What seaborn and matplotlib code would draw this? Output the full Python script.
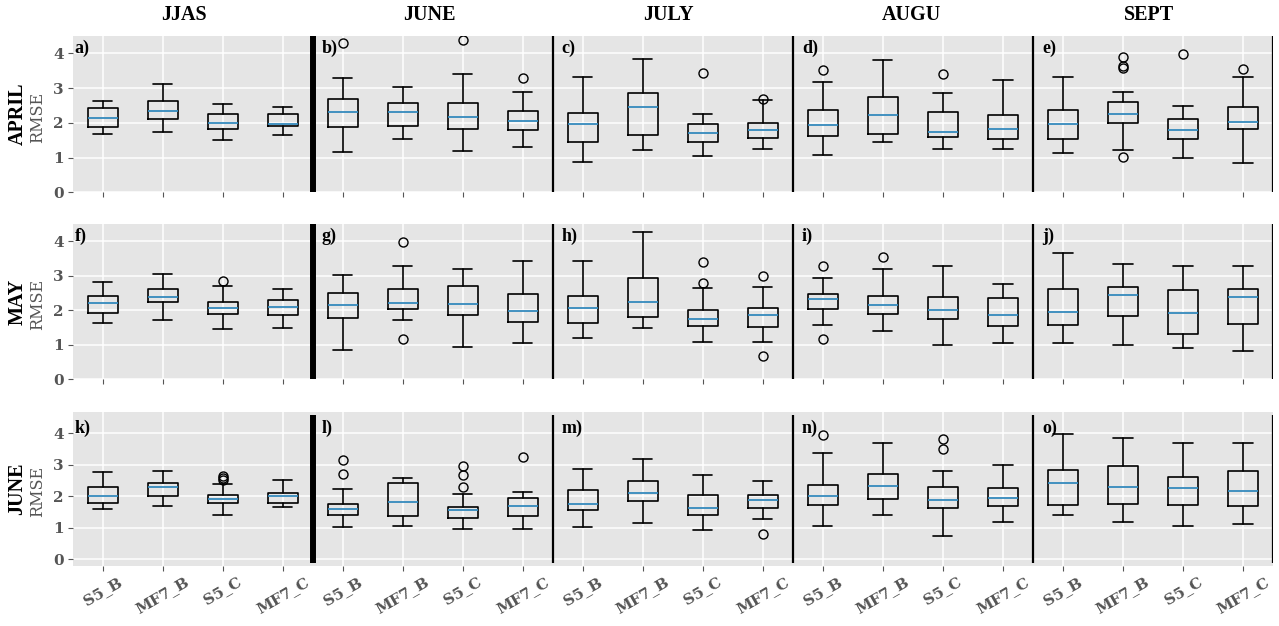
import matplotlib
matplotlib.use("Agg")
import matplotlib.pyplot as plt
import seaborn as sns

# ---------------- data ----------------
months = ["APRIL", "MAY", "JUNE"]
periods = ["JJAS", "JUNE", "JULY", "AUGU", "SEPT"]
models = ["S5_B", "MF7_B", "S5_C", "MF7_C"]
panel_letters = list("abcdefghijklmno")

# APRIL row (20 boxes: 5 periods x 4 models)
april_low = [1.67, 1.75, 1.51, 1.64, 1.15, 1.53, 1.18, 1.29, 0.88, 1.21, 1.04, 1.24, 1.08, 1.45, 1.26, 1.26, 1.12, 1.21, 0.98, 0.85]
april_q1 = [1.87, 2.10, 1.82, 1.91, 1.87, 1.92, 1.82, 1.80, 1.45, 1.64, 1.45, 1.55, 1.62, 1.69, 1.58, 1.53, 1.53, 2.00, 1.53, 1.81]
april_med = [2.15, 2.35, 2.00, 1.98, 2.32, 2.32, 2.17, 2.05, 1.97, 2.45, 1.71, 1.78, 1.95, 2.22, 1.75, 1.82, 1.97, 2.24, 1.80, 2.02]
april_q3 = [2.42, 2.62, 2.24, 2.24, 2.70, 2.57, 2.57, 2.33, 2.27, 2.85, 1.97, 2.00, 2.37, 2.73, 2.30, 2.22, 2.36, 2.59, 2.12, 2.47]
april_high = [2.63, 3.12, 2.54, 2.45, 3.28, 3.02, 3.40, 2.89, 3.31, 3.83, 2.24, 2.65, 3.17, 3.81, 2.85, 3.23, 3.31, 2.89, 2.49, 3.33]
april_out = [[], [], [], [], [4.31], [], [4.38], [3.28], [], [], [3.43], [2.70], [3.53], [], [3.40], [],
             [], [3.90, 3.65, 3.59, 1.03], [3.98], [3.56]]

# MAY row
may_low = [1.63, 1.73, 1.46, 1.48, 0.86, 1.73, 0.93, 1.06, 1.21, 1.48, 1.08, 1.08, 1.57, 1.40, 0.99, 1.06, 1.04, 1.00, 0.91, 0.81]
may_q1 = [1.92, 2.24, 1.89, 1.87, 1.78, 2.05, 1.87, 1.67, 1.62, 1.82, 1.56, 1.53, 2.03, 1.90, 1.76, 1.54, 1.57, 1.84, 1.31, 1.61]
may_med = [2.20, 2.39, 2.08, 2.11, 2.15, 2.22, 2.18, 1.98, 2.08, 2.23, 1.76, 1.86, 2.33, 2.15, 2.01, 1.86, 1.95, 2.45, 1.93, 2.38]
may_q3 = [2.43, 2.63, 2.25, 2.30, 2.50, 2.61, 2.72, 2.47, 2.41, 2.93, 2.02, 2.08, 2.47, 2.43, 2.38, 2.36, 2.61, 2.69, 2.58, 2.61]
may_high = [2.83, 3.05, 2.71, 2.63, 3.02, 3.28, 3.21, 3.43, 3.43, 4.28, 2.64, 2.69, 2.95, 3.21, 3.30, 2.77, 3.65, 3.35, 3.30, 3.30]
may_out = [[], [], [2.86], [], [], [3.97, 1.18], [], [], [], [], [3.40, 2.80], [3.00, 0.69], [3.30, 1.18], [3.55],
           [], [], [], [], [], []]

# JUNE row
june_low = [1.59, 1.68, 1.42, 1.65, 1.03, 1.07, 0.96, 0.96, 1.04, 1.15, 0.93, 1.29, 1.07, 1.41, 0.74, 1.18, 1.41, 1.18, 1.07, 1.12]
june_q1 = [1.80, 2.02, 1.80, 1.80, 1.41, 1.36, 1.31, 1.36, 1.55, 1.86, 1.40, 1.64, 1.72, 1.91, 1.64, 1.69, 1.72, 1.77, 1.72, 1.69]
june_med = [2.02, 2.29, 1.93, 2.02, 1.59, 1.83, 1.56, 1.68, 1.74, 2.10, 1.64, 1.89, 2.02, 2.34, 1.89, 1.94, 2.41, 2.29, 2.26, 2.16]
june_q3 = [2.29, 2.43, 2.04, 2.12, 1.77, 2.43, 1.67, 1.94, 2.21, 2.49, 2.04, 2.05, 2.37, 2.70, 2.29, 2.26, 2.84, 2.97, 2.60, 2.81]
june_high = [2.77, 2.79, 2.40, 2.53, 2.24, 2.59, 2.07, 2.15, 2.86, 3.19, 2.67, 2.49, 3.37, 3.68, 2.79, 3.00, 3.96, 3.84, 3.68, 3.68]
june_out = [[], [], [2.64, 2.57, 2.52], [], [3.16, 2.72], [], [2.96, 2.67, 2.31], [3.24], [], [], [], [0.81], [3.93],
            [], [3.82, 3.49], [], [], [], [], []]

yticks = [0, 1, 2, 3, 4]

rows = [
    (april_low, april_q1, april_med, april_q3, april_high, april_out),
    (may_low, may_q1, may_med, may_q3, may_high, may_out),
    (june_low, june_q1, june_med, june_q3, june_high, june_out),
]

# ---------------- style ----------------
sns.set_theme(style="darkgrid", rc={
    "axes.facecolor": "#E5E5E5",
    "axes.edgecolor": "white",
    "grid.color": "white",
    "grid.linewidth": 1.1,
    "xtick.bottom": True,
    "ytick.left": True,
    "xtick.color": "#555555",
    "ytick.color": "#555555",
    "xtick.major.size": 3.5,
    "ytick.major.size": 3.5,
    "xtick.major.width": 0.8,
    "ytick.major.width": 0.8,
    "xtick.direction": "out",
    "ytick.direction": "out",
})

GRAY = "#555555"
TICKFONT = dict(family="DejaVu Serif", weight="bold", size=11, color=GRAY)
TIMES = "Liberation Serif"

fig = plt.figure(figsize=(12.79, 6.26), dpi=100)
left, width = 0.0568, 0.9385
row_boxes = [(0.6928, 0.2497), (0.3941, 0.2478), (0.0963, 0.2460)]
ylims = [(0.0, 4.5), (0.0, 4.5), (-0.2, 4.68)]

positions = list(range(1, 21))
for r, (low, q1, med, q3, high, out) in enumerate(rows):
    b, h = row_boxes[r]
    ax = fig.add_axes([left, b, width, h])
    stats = []
    for i in range(20):
        stats.append(dict(whislo=low[i], q1=q1[i], med=med[i], q3=q3[i], whishi=high[i], fliers=out[i]))
    ax.bxp(stats, positions=positions, widths=0.5, capwidths=0.32,
           boxprops=dict(color="black", linewidth=1.2),
           whiskerprops=dict(color="black", linewidth=1.2),
           capprops=dict(color="black", linewidth=1.2),
           medianprops=dict(color="#348ABD", linewidth=1.3),
           flierprops=dict(marker="o", markerfacecolor="none", markeredgecolor="black",
                           markersize=6.5, markeredgewidth=1.0))
    # separators
    ax.vlines([4.5], -0.1, 4.57, color="black", linewidth=4.3, zorder=5)
    ax.vlines([8.5, 12.5, 16.5, 20.5], -0.1, 4.57, color="black", linewidth=1.6, zorder=5)
    ax.set_xlim(0.5, 20.5)
    ax.set_ylim(*ylims[r])
    ax.set_yticks(yticks)
    ax.set_yticklabels([str(v) for v in yticks], fontdict=TICKFONT)
    ax.set_xticks(positions)
    if r == 2:
        ax.set_xticklabels(models * 5, rotation=30, ha="center", fontdict=TICKFONT)
    else:
        ax.set_xticklabels([""] * 20)
    ax.tick_params(axis="both", pad=3)
    ax.grid(True, color="white", linewidth=1.1)
    ax.set_axisbelow(True)
    for s in ax.spines.values():
        s.set_visible(False)

    # panel letters
    for g in range(5):
        x0 = 0.53 if g == 0 else 4.5 + 4 * (g - 1) + 4.5 - 4.5 + 0.15
        x0 = 0.53 if g == 0 else 4.5 + 4 * (g - 1) + 0.15
        ax.text(x0, 4.0, panel_letters[r * 5 + g] + ")", fontfamily=TIMES, fontweight="bold",
                fontsize=13, color="black", va="baseline", ha="left", zorder=6)

    # row labels
    ax.text(-0.046, 0.5, months[r], transform=ax.transAxes, rotation=90, ha="center", va="center",
            fontfamily=TIMES, fontweight="bold", fontsize=14.5, color="black")
    ax.text(-0.0295, 0.48, "RMSE", transform=ax.transAxes, rotation=90, ha="center", va="center",
            fontfamily="DejaVu Serif", fontsize=11.5, color=GRAY)

    if r == 0:
        title_x = [2.35, 6.45, 10.42, 14.47, 18.43]
        for g in range(5):
            ax.text(title_x[g], 1.135, periods[g], transform=ax.get_xaxis_transform(),
                    ha="center", va="center", fontfamily=TIMES, fontweight="bold",
                    fontsize=14.5, color="black")

fig.savefig("out.png", dpi=100)
